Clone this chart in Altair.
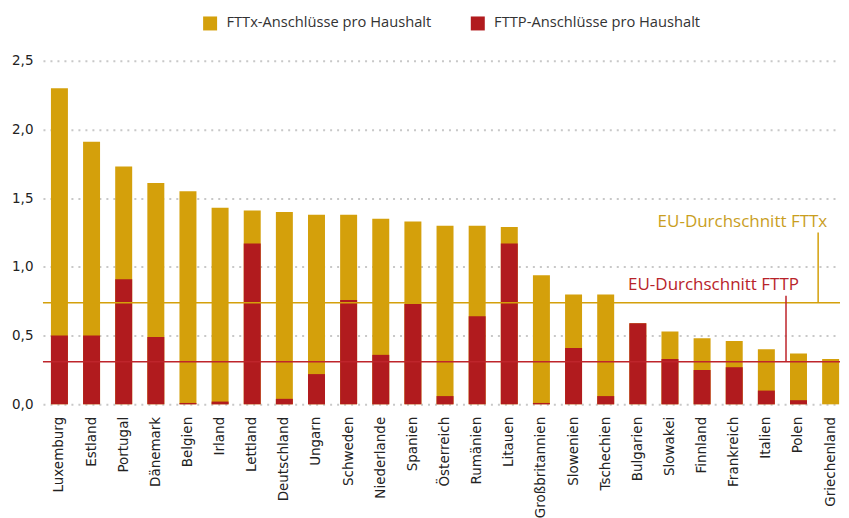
import altair as alt
import pandas as pd

countries = ["Luxemburg", "Estland", "Portugal", "Dänemark", "Belgien", "Irland",
             "Lettland", "Deutschland", "Ungarn", "Schweden", "Niederlande", "Spanien",
             "Österreich", "Rumänien", "Litauen", "Großbritannien", "Slowenien",
             "Tschechien", "Bulgarien", "Slowakei", "Finnland", "Frankreich", "Italien",
             "Polen", "Griechenland"]
fttx = [2.30, 1.91, 1.73, 1.61, 1.55, 1.43, 1.41, 1.40, 1.38, 1.38, 1.35, 1.33,
        1.30, 1.30, 1.29, 0.94, 0.80, 0.80, 0.59, 0.53, 0.48, 0.46, 0.40, 0.37, 0.33]
fttp = [0.50, 0.50, 0.91, 0.49, 0.01, 0.02, 1.17, 0.04, 0.22, 0.76, 0.36, 0.73,
        0.06, 0.64, 1.17, 0.01, 0.41, 0.06, 0.59, 0.33, 0.25, 0.27, 0.10, 0.03, 0.00]
series = ["FTTx-Anschlüsse pro Haushalt", "FTTP-Anschlüsse pro Haushalt"]
colors = ["#D4A00B", "#B11B1E"]
y_ticks = [0, 0.5, 1.0, 1.5, 2.0, 2.5]

avg_labels = ["EU-Durchschnitt FTTx", "EU-Durchschnitt FTTP"]
avg_values = [0.74, 0.31]
avg_colors = ["#D4A00B", "#BE252B"]
label_colors = ["#C99E1E", "#B8232A"]
label_anchor = ["Griechenland", "Polen"]
label_band = [0.3, 0.53]
label_y = [1.29, 0.83]
leader_anchor = ["Griechenland", "Polen"]
leader_top = [1.25, 0.79]

rows = []
for s, vals in zip(series, [fttx, fttp]):
    for c, v in zip(countries, vals):
        rows.append({"Land": c, "Serie": s, "Wert": v})
df = pd.DataFrame(rows)

x_enc = alt.X(
    "Land:N", title=None,
    scale=alt.Scale(domain=countries, paddingInner=0.4716, paddingOuter=0.138, align=0.9),
    axis=alt.Axis(labelAngle=270, labelPadding=12, labelFont="DejaVu Sans",
                  labelFontSize=13.5, labelColor="#222222", ticks=False, domain=False,
                  grid=False),
)
y_enc = alt.Y(
    "Wert:Q", title=None, stack=None,
    scale=alt.Scale(domain=[0, 2.5], nice=False),
    axis=alt.Axis(values=y_ticks, labelExpr="replace(format(datum.value, '.1f'), '.', ',')",
                  grid=True, gridDash=[2, 5], gridColor="#C8C8C8", gridWidth=2,
                  domain=False, ticks=False, labelPadding=10, labelFont="DejaVu Sans",
                  labelFontSize=13.5, labelColor="#222222"),
)

bars = alt.Chart(df).mark_bar().encode(
    x=x_enc,
    y=y_enc,
    color=alt.Color(
        "Serie:N",
        scale=alt.Scale(domain=series, range=colors),
        legend=alt.Legend(orient="none", legendX=160, legendY=-45, direction="horizontal",
                          title=None, symbolType="square", symbolSize=196,
                          symbolStrokeWidth=0, labelFont="Open Sans", labelFontSize=14.7,
                          labelColor="#333333", labelOffset=9, columnPadding=39,
                          padding=0, labelLimit=0),
    ),
)

layers = [bars]
for i in range(2):
    avg_df = pd.DataFrame({"Wert": [avg_values[i]]})
    layers.append(
        alt.Chart(avg_df).mark_rule(color=avg_colors[i], strokeWidth=1.5).encode(
            y=alt.Y("Wert:Q", title=None)
        )
    )
    lead_df = pd.DataFrame({"Land": [leader_anchor[i]], "Wert": [leader_top[i]],
                            "Wert2": [avg_values[i]]})
    layers.append(
        alt.Chart(lead_df).mark_rule(color=avg_colors[i], strokeWidth=1.5,
                                     xOffset=-4).encode(
            x=alt.X("Land:N", title=None, bandPosition=0),
            y=alt.Y("Wert:Q", title=None),
            y2="Wert2:Q",
        )
    )
    txt_df = pd.DataFrame({"Land": [label_anchor[i]], "Wert": [label_y[i]],
                           "Text": [avg_labels[i]]})
    layers.append(
        alt.Chart(txt_df).mark_text(align="right", baseline="alphabetic", font="Open Sans",
                                    fontSize=17, color=label_colors[i]).encode(
            x=alt.X("Land:N", title=None, bandPosition=label_band[i]),
            y=alt.Y("Wert:Q", title=None),
            text="Text:N",
        )
    )

chart = alt.layer(*layers).properties(
    width=798, height=344,
    padding={"left": 3, "top": 7.5, "right": 0, "bottom": 0},
).configure_view(stroke=None)

chart.save("out.html", embed_options={"renderer": "svg", "actions": False})
